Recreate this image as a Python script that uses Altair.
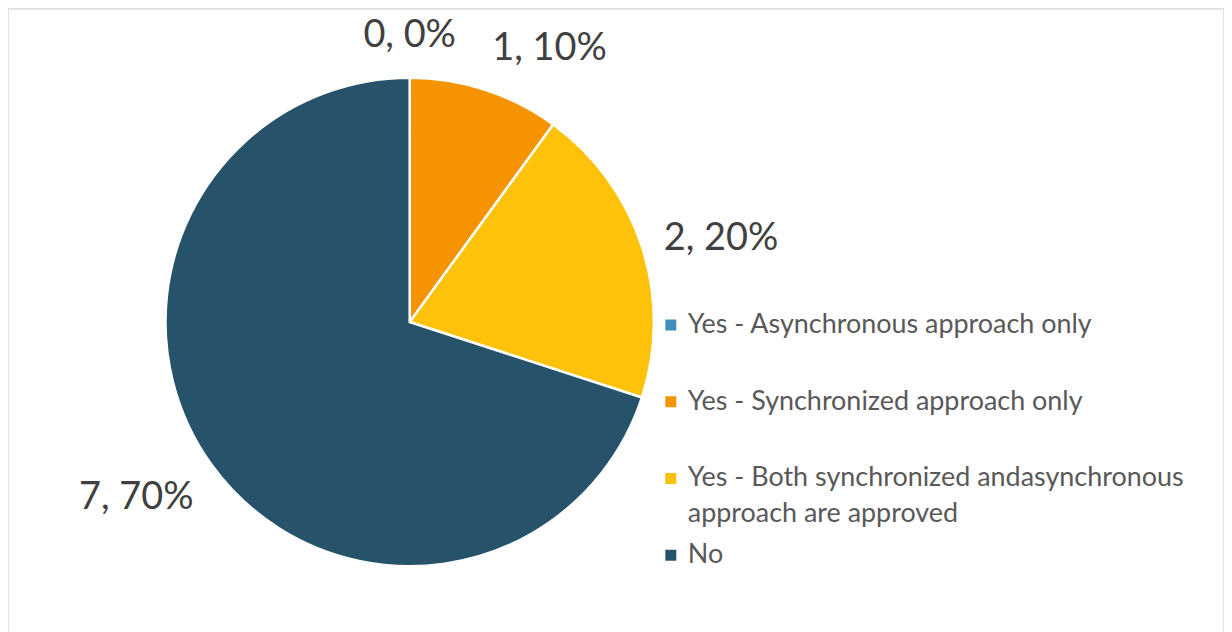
import altair as alt
import pandas as pd

categories = [
    "Yes - Asynchronous approach only",
    "Yes - Synchronized approach only",
    "Yes - Both synchronized andasynchronous approach are approved",
    "No",
]
legend_labels = [
    "Yes - Asynchronous approach only",
    "Yes - Synchronized approach only",
    "Yes - Both synchronized andasynchronous\napproach are approved",
    "No",
]
counts = [0, 1, 2, 7]
colors = ["#3f8dbb", "#f59300", "#fec20a", "#265369"]

total = sum(counts)
df = pd.DataFrame({
    "cat": categories,
    "legend": legend_labels,
    "count": counts,
    "idx": list(range(len(categories))),
    "label": [f"{c}, {round(100 * c / total)}%" for c in counts],
})

CX, CY = 403, 314
R = 245
LR = 268

color = alt.Color("cat:N", scale=alt.Scale(domain=categories, range=colors), legend=None)
base = alt.Chart(df)

pie = base.mark_arc(radius=R, stroke="white", strokeWidth=2.5).encode(
    theta=alt.Theta("count:Q", stack=True, scale=alt.Scale(domain=[0, total])),
    order=alt.Order("idx:Q"),
    color=color,
    x=alt.value(CX),
    y=alt.value(CY),
)

lab_base = base.transform_window(
    cum="sum(count)", sort=[alt.SortField("idx")], frame=[None, 0]
).transform_calculate(mid="datum.cum - datum.count / 2")


def label_layer(indices, align, baseline):
    return lab_base.transform_filter(
        alt.FieldOneOfPredicate(field="idx", oneOf=indices)
    ).mark_text(
        radius=LR, align=align, baseline=baseline, fontSize=38,
        font="Lato", color="#404040"
    ).encode(
        theta=alt.Theta("mid:Q", stack=None, scale=alt.Scale(domain=[0, total])),
        text="label:N",
        x=alt.value(CX),
        y=alt.value(CY),
    )


labels = (
    label_layer([0], "center", "bottom")
    + label_layer([1], "left", "bottom")
    + label_layer([2], "left", "middle")
    + label_layer([3], "right", "top")
)

ysc = alt.Scale(domain=categories, type="point", range=[317, 548], padding=0)

leg_sq = base.mark_square(size=121, opacity=1).encode(
    y=alt.Y("cat:N", scale=ysc, axis=None),
    x=alt.value(665),
    color=color,
)
leg_txt = base.mark_text(
    align="left", baseline="middle", fontSize=27, font="Lato",
    color="#595959", lineBreak="\n", lineHeight=36
).encode(
    y=alt.Y("cat:N", scale=ysc, axis=None),
    x=alt.value(682),
    text="legend:N",
)

chart = alt.layer(pie, labels, leg_sq, leg_txt).properties(
    width=1220, height=630, padding=0
).configure_view(stroke="#d9d9d9", strokeWidth=1.5)

chart.save("out.html", embed_options={"renderer": "svg", "actions": False})
